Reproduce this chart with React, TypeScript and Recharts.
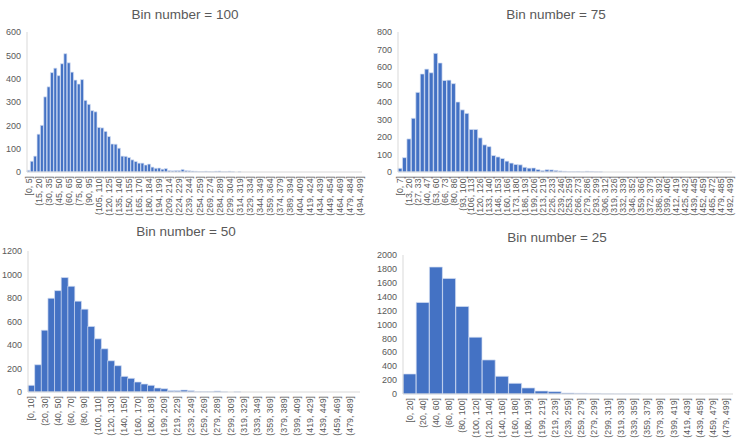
import React from "react"
import { BarChart, Bar, XAxis, YAxis } from "recharts"

// counts per bin
const counts100 = [
  7, 46, 68, 162, 200, 322, 365, 426, 445, 413,
  464, 507, 468, 428, 394, 377, 396, 307, 290, 263,
  258, 191, 189, 174, 152, 120, 119, 102, 68, 67,
  62, 52, 45, 38, 38, 30, 34, 21, 16, 17,
  12, 15, 6, 5, 6, 6, 11, 6, 5, 4,
  3, 2, 2, 3, 2, 1, 3, 4, 1, 1,
  3, 1, 0, 1, 0, 0, 0, 0, 0, 0,
  0, 0, 0, 0, 0, 0, 0, 0, 0, 0,
  0, 0, 0, 0, 0, 0, 0, 0, 0, 0,
  0, 0, 0, 0, 0, 0, 0, 0, 0, 0
]
const counts75 = [
  21, 82, 189, 307, 455, 560, 588, 567, 678, 623,
  523, 525, 505, 400, 355, 335, 243, 243, 195, 155,
  145, 94, 86, 77, 62, 51, 43, 41, 27, 22,
  23, 14, 8, 13, 12, 9, 6, 4, 2, 2,
  3, 1, 4, 3, 1, 1, 0, 0, 0, 0,
  0, 0, 0, 0, 0, 0, 0, 0, 0, 0,
  0, 0, 0, 0, 0, 0, 0, 0, 0, 0,
  0, 0, 0, 0, 0
]
const counts50 = [
  57, 232, 526, 798, 863, 974, 900, 773, 705, 558,
  453, 368, 266, 224, 133, 116, 85, 68, 57, 34,
  28, 11, 11, 17, 11, 3, 3, 3, 8, 1,
  0, 1, 0, 0, 0, 0, 0, 0, 0, 0,
  0, 0, 0, 0, 0, 0, 0, 0, 0, 0
]
const counts25 = [
  288, 1317, 1827, 1663, 1260, 817, 490, 255, 154, 87,
  43, 34, 14, 10, 8, 2, 1, 1, 0, 0,
  0, 0, 0, 0, 0
]

// only every n-th bin gets a label in the original
const ticks100 = [
  "[0, 5]", "(15, 20]", "(30, 35]", "(45, 50]", "(60, 65]", "(75, 80]", "(90, 95]",
  "(105, 110]", "(120, 125]", "(135, 140]", "(150, 155]", "(165, 170]", "(180, 184]",
  "(194, 199]", "(209, 214]", "(224, 229]", "(239, 244]", "(254, 259]", "(269, 274]",
  "(284, 289]", "(299, 304]", "(314, 319]", "(329, 334]", "(344, 349]", "(359, 364]",
  "(374, 379]", "(389, 394]", "(404, 409]", "(419, 424]", "(434, 439]", "(449, 454]",
  "(464, 469]", "(479, 484]", "(494, 499]"
]
const ticks75 = [
  "[0, 7]", "(13, 20]", "(27, 33]", "(40, 47]", "(53, 60]", "(66, 73]", "(80, 86]",
  "(93, 100]", "(106, 113]", "(120, 126]", "(133, 140]", "(146, 153]", "(160, 166]",
  "(173, 180]", "(186, 193]", "(199, 206]", "(213, 219]", "(226, 233]", "(239, 246]",
  "(253, 259]", "(266, 273]", "(279, 286]", "(293, 299]", "(306, 312]", "(319, 326]",
  "(332, 339]", "(346, 352]", "(359, 366]", "(372, 379]", "(386, 392]", "(399, 406]",
  "(412, 419]", "(425, 432]", "(439, 445]", "(452, 459]", "(465, 472]", "(479, 485]",
  "(492, 499]"
]
const ticks50 = [
  "[0, 10]", "(20, 30]", "(40, 50]", "(60, 70]", "(80, 90]", "(100, 110]", "(120, 130]",
  "(140, 150]", "(160, 170]", "(180, 189]", "(199, 209]", "(219, 229]", "(239, 249]",
  "(259, 269]", "(279, 289]", "(299, 309]", "(319, 329]", "(339, 349]", "(359, 369]",
  "(379, 389]", "(399, 409]", "(419, 429]", "(439, 449]", "(459, 469]", "(479, 489]"
]
const ticks25 = [
  "[0, 20]", "(20, 40]", "(40, 60]", "(60, 80]", "(80, 100]", "(100, 120]", "(120, 140]",
  "(140, 160]", "(160, 180]", "(180, 199]", "(199, 219]", "(219, 239]", "(239, 259]",
  "(259, 279]", "(279, 299]", "(299, 319]", "(319, 339]", "(339, 359]", "(359, 379]",
  "(379, 399]", "(399, 419]", "(419, 439]", "(439, 459]", "(459, 479]", "(479, 499]"
]

const yTicks100 = [0, 100, 200, 300, 400, 500, 600]
const yTicks75 = [0, 100, 200, 300, 400, 500, 600, 700, 800]
const yTicks50 = [0, 200, 400, 600, 800, 1000, 1200]
const yTicks25 = [0, 200, 400, 600, 800, 1000, 1200, 1400, 1600, 1800, 2000]

const FONT = "'Liberation Sans', Arial, sans-serif"
const GREY = "#595959"
const BLUE = "#4472C4"

function BinTick(props: any) {
  const { x, y, payload, labels, step } = props
  const label = labels[Math.round(payload.value / step)]
  return (
    <text
      transform={`translate(${x},${y}) rotate(-90)`}
      textAnchor="end"
      dy="0.34em"
      fontSize={8.8}
      fontFamily={FONT}
      fill={GREY}
    >
      {label}
    </text>
  )
}

type PanelProps = {
  title: string
  counts: number[]
  labels: string[]
  step: number
  yTicks: number[]
  left: number
  top: number
  height: number
  margin: { top: number; right: number; left: number; bottom: number }
  yWidth: number
  xHeight: number
  titleX: number
  titleY: number
}

function Panel(p: PanelProps) {
  const rows = p.counts.map((count, i) => ({ bin: i, count }))
  return (
    <>
      <div
        style={{
          position: "absolute",
          left: p.titleX - 100,
          top: p.titleY - 9,
          width: 200,
          height: 18,
          lineHeight: "18px",
          textAlign: "center",
          fontFamily: FONT,
          fontSize: 13.5,
          color: GREY
        }}
      >
        {p.title}
      </div>
      <div style={{ position: "absolute", left: p.left, top: p.top }}>
        <BarChart width={375} height={p.height} data={rows} margin={p.margin} barCategoryGap={0}>
          <XAxis
            dataKey="bin"
            type="category"
            interval={p.step - 1}
            height={p.xHeight}
            tickLine={false}
            tickSize={0}
            tickMargin={4}
            axisLine={{ stroke: "#d9d9d9" }}
            tick={(t: any) => <BinTick {...t} labels={p.labels} step={p.step} />}
          />
          <YAxis
            width={p.yWidth}
            domain={[0, p.yTicks[p.yTicks.length - 1]]}
            ticks={p.yTicks}
            interval={0}
            tickLine={false}
            tickSize={0}
            tickMargin={6}
            axisLine={{ stroke: "#d9d9d9" }}
            tick={{ fontSize: 9, fill: GREY, fontFamily: FONT }}
          />
          <Bar
            dataKey="count"
            fill={BLUE}
            stroke="#d6e0f3"
            strokeWidth={0.7}
            isAnimationActive={false}
          />
        </BarChart>
      </div>
    </>
  )
}

export default function App() {
  return (
    <div
      style={{
        position: "absolute",
        left: 0,
        top: 0,
        width: 750,
        height: 441,
        background: "#fff",
        overflow: "hidden"
      }}
    >
      <Panel
        title="Bin number = 100"
        counts={counts100}
        labels={ticks100}
        step={3}
        yTicks={yTicks100}
        left={0}
        top={0}
        height={220}
        margin={{ top: 32, right: 13, left: 0, bottom: 0 }}
        yWidth={27}
        xHeight={48}
        titleX={185}
        titleY={15}
      />
      <Panel
        title="Bin number = 75"
        counts={counts75}
        labels={ticks75}
        step={2}
        yTicks={yTicks75}
        left={375}
        top={0}
        height={220}
        margin={{ top: 32, right: 18, left: 0, bottom: 0 }}
        yWidth={23}
        xHeight={48}
        titleX={556}
        titleY={15}
      />
      <Panel
        title="Bin number = 50"
        counts={counts50}
        labels={ticks50}
        step={2}
        yTicks={yTicks50}
        left={0}
        top={220}
        height={221}
        margin={{ top: 31, right: 15, left: 0, bottom: 0 }}
        yWidth={28}
        xHeight={49}
        titleX={186}
        titleY={232}
      />
      <Panel
        title="Bin number = 25"
        counts={counts25}
        labels={ticks25}
        step={1}
        yTicks={yTicks25}
        left={375}
        top={220}
        height={221}
        margin={{ top: 35, right: 17, left: 0, bottom: 0 }}
        yWidth={28}
        xHeight={47}
        titleX={557}
        titleY={238}
      />
    </div>
  )
}
